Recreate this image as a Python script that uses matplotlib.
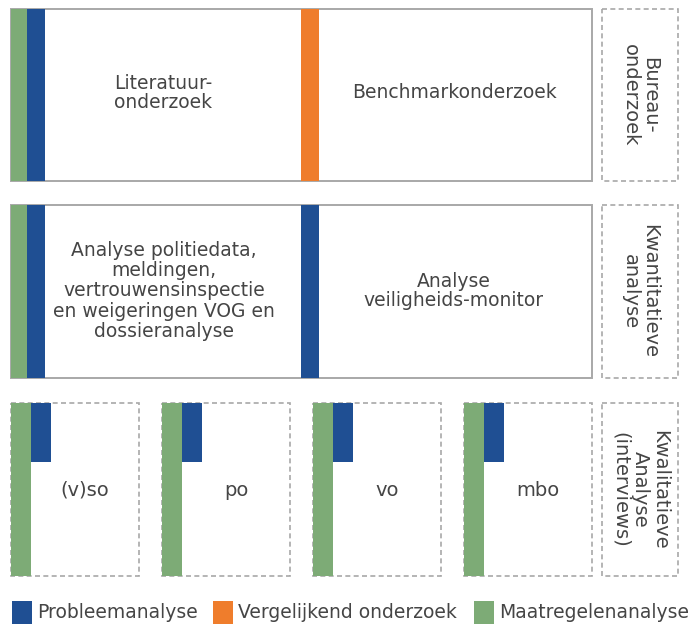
import matplotlib
matplotlib.use("Agg")
import matplotlib.pyplot as plt
from matplotlib.patches import Rectangle

# ---- content ----
legend_labels = ["Probleemanalyse", "Vergelijkend onderzoek", "Maatregelenanalyse"]
legend_colors = ["#1f4f93", "#ef7d2c", "#7dab76"]
BLUE, ORANGE, GREEN = legend_colors

side_labels = ["Bureau-\nonderzoek", "Kwantitatieve\nanalyse", "Kwalitatieve\nAnalyse\n(interviews)"]
row1_texts = ["Literatuur-\nonderzoek", "Benchmarkonderzoek"]
row2_texts = ["Analyse politiedata,\nmeldingen,\nvertrouwensinspectie\nen weigeringen VOG en\ndossieranalyse",
              "Analyse\nveiligheids-monitor"]
row3_texts = ["(v)so", "po", "vo", "mbo"]

# ---- layout (pixel space) ----
TXT = "#454545"
EDGE = "#a8a8a8"
FS = 13.5

fig = plt.figure(figsize=(6.94, 6.30), dpi=100)
ax = fig.add_axes([0, 0, 1, 1])
ax.set_xlim(0, 694)
ax.set_ylim(630, 0)
ax.axis("off")

def rect(x0, y0, x1, y1, **kw):
    ax.add_patch(Rectangle((x0, y0), x1 - x0, y1 - y0, **kw))

rows = [(9, 181), (205, 378)]
for (y0, y1), mid_color in zip(rows, [ORANGE, BLUE]):
    rect(11, y0, 592, y1, facecolor="white", edgecolor=EDGE, lw=1.4)
    rect(11, y0, 27, y1, facecolor=GREEN, edgecolor="none")
    rect(27, y0, 45, y1, facecolor=BLUE, edgecolor="none")
    rect(301, y0, 319, y1, facecolor=mid_color, edgecolor="none")

ax.text(163, 93, row1_texts[0], ha="center", va="center", fontsize=FS, color=TXT, linespacing=1.05)
ax.text(455, 92, row1_texts[1], ha="center", va="center", fontsize=FS, color=TXT)
ax.text(164, 291, row2_texts[0], ha="center", va="center", fontsize=FS, color=TXT, linespacing=1.07)
ax.text(454, 291, row2_texts[1], ha="center", va="center", fontsize=FS, color=TXT, linespacing=1.05)

# row 3 small boxes
small_x = [11, 162, 313, 464]
for x0, lab in zip(small_x, row3_texts):
    rect(x0, 403, x0 + 128, 576, facecolor="white", edgecolor=EDGE, lw=1.2, ls=(0, (3, 2)))
    rect(x0, 403, x0 + 20, 576, facecolor=GREEN, edgecolor="none")
    rect(x0 + 20, 403, x0 + 40, 462, facecolor=BLUE, edgecolor="none")
    ax.text(x0 + 20 + 54, 490, lab, ha="center", va="center", fontsize=14, color=TXT)

# side labels
side_rows = [(9, 181), (205, 378), (403, 576)]
for (y0, y1), lab in zip(side_rows, side_labels):
    rect(602, y0, 678, y1, facecolor="white", edgecolor=EDGE, lw=1.2, ls=(0, (3, 2)))
    ax.text(640, (y0 + y1) / 2, lab, ha="center", va="center", rotation=270,
            fontsize=14, color=TXT, linespacing=1.05)

# legend
leg_x = [12, 213, 474]
for x0, lab, col in zip(leg_x, legend_labels, legend_colors):
    rect(x0, 601, x0 + 20, 624, facecolor=col, edgecolor="none")
    ax.text(x0 + 25, 613, lab, ha="left", va="center", fontsize=FS, color=TXT)

fig.savefig("out.png", dpi=100, facecolor="white")
